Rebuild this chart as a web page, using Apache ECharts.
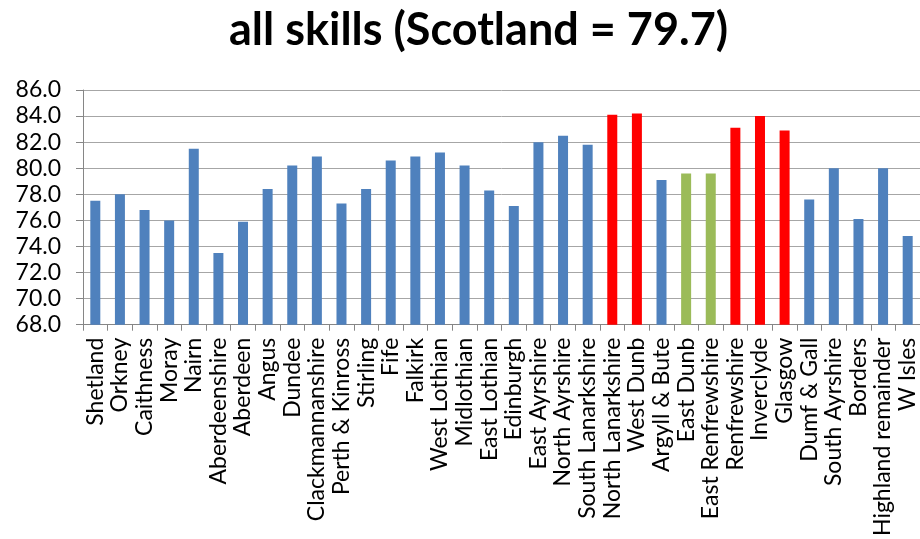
<!DOCTYPE html>
<html>
<head>
<meta charset="utf-8">
<script src="https://cdn.jsdelivr.net/npm/echarts@6/dist/echarts.min.js"></script>
<style>
  html, body { margin: 0; padding: 0; background: #ffffff; }
  #chart { width: 920px; height: 539px; }
</style>
</head>
<body>
<div id="chart"></div>
<script>
// Council areas in display order
const areas = [
  'Shetland', 'Orkney', 'Caithness', 'Moray', 'Nairn', 'Aberdeenshire',
  'Aberdeen', 'Angus', 'Dundee', 'Clackmannanshire', 'Perth & Kinross',
  'Stirling', 'Fife', 'Falkirk', 'West Lothian', 'Midlothian', 'East Lothian',
  'Edinburgh', 'East Ayrshire', 'North Ayrshire', 'South Lanarkshire',
  'North Lanarkshire', 'West Dunb', 'Argyll & Bute', 'East Dunb',
  'East Renfrewshire', 'Renfrewshire', 'Inverclyde', 'Glasgow', 'Dumf & Gall',
  'South Ayrshire', 'Borders', 'Highland remainder', 'W Isles'
];

// All-skills score per area
const scores = [
  77.5, 78.0, 76.8, 76.0, 81.5, 73.5,
  75.9, 78.4, 80.2, 80.9, 77.3,
  78.4, 80.6, 80.9, 81.2, 80.2, 78.3,
  77.1, 82.0, 82.5, 81.8,
  84.1, 84.2, 79.1, 79.6,
  79.6, 83.1, 84.0, 82.9, 77.6,
  80.0, 76.1, 80.0, 74.8
];

// Highlighted groups of areas
const redAreas = ['North Lanarkshire', 'West Dunb', 'Renfrewshire', 'Inverclyde', 'Glasgow'];
const greenAreas = ['East Dunb', 'East Renfrewshire'];

const scotlandScore = 79.7;
const yTicks = [68, 70, 72, 74, 76, 78, 80, 82, 84, 86];

const BLUE = '#4F81BD', RED = '#FF0000', GREEN = '#9BBB59';
const FONT = 'Lato, "Liberation Sans", sans-serif';

const barData = areas.map((name, i) => ({
  value: scores[i],
  itemStyle: {
    color: redAreas.includes(name) ? RED : greenAreas.includes(name) ? GREEN : BLUE
  }
}));

const chart = echarts.init(document.getElementById('chart'), null, { renderer: 'canvas' });
chart.setOption({
  animation: false,
  backgroundColor: '#ffffff',
  title: {
    text: 'all skills (Scotland = ' + scotlandScore.toFixed(1) + ')',
    left: 224,
    top: 3,
    textStyle: { fontFamily: FONT, fontWeight: 'bold', fontSize: 45, color: '#000000' }
  },
  grid: { left: 83, top: 90, right: -4, bottom: 212, containLabel: false },
  xAxis: {
    type: 'category',
    data: areas,
    boundaryGap: true,
    axisLine: { show: true, lineStyle: { color: '#868686', width: 1 } },
    axisTick: { show: true, alignWithLabel: false, length: 6, lineStyle: { color: '#868686' } },
    axisLabel: {
      interval: 0, rotate: 90, margin: 13,
      fontFamily: FONT, fontSize: 23, color: '#000000'
    }
  },
  yAxis: {
    type: 'value',
    min: yTicks[0],
    max: yTicks[yTicks.length - 1],
    interval: 2,
    axisLine: { show: true, lineStyle: { color: '#868686', width: 1 } },
    axisTick: { show: true, inside: false, length: 7, lineStyle: { color: '#868686' } },
    splitLine: { show: true, lineStyle: { color: '#a6a6a6', width: 1 } },
    axisLabel: {
      margin: 22, fontFamily: FONT, fontSize: 23, color: '#000000',
      formatter: v => v.toFixed(1)
    }
  },
  series: [{
    type: 'bar',
    data: barData,
    barWidth: 10
  }]
});
</script>
</body>
</html>
